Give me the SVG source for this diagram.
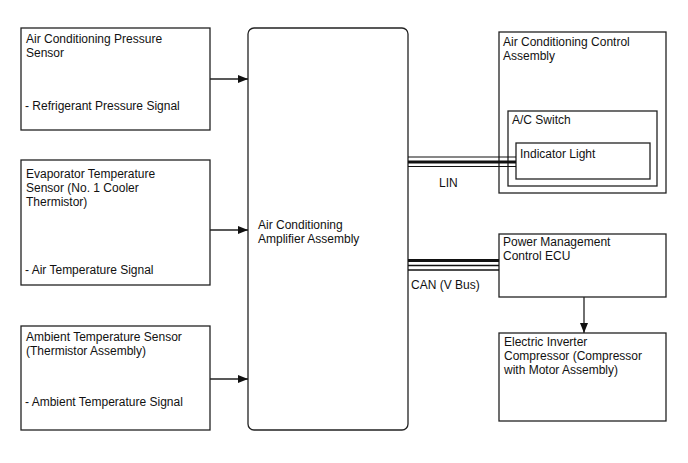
<svg xmlns="http://www.w3.org/2000/svg" width="688" height="463" viewBox="0 0 688 463">
<defs>
<style>
.box{fill:#fff;stroke:#222;stroke-width:1.3}
text{font-family:"Liberation Sans",Arial,sans-serif;font-size:12px;fill:#111}
.ln{stroke:#222;stroke-width:1.3;fill:none}
</style>
<marker id="ah" viewBox="0 0 10 10" refX="10" refY="5" markerWidth="10" markerHeight="10" markerUnits="userSpaceOnUse" orient="auto">
<path d="M0,1 L10,5 L0,9 z" fill="#111"/>
</marker>
</defs>
<rect width="688" height="463" fill="#fff"/>
<g id="pressure-sensor">
<rect class="box" x="21" y="28" width="189" height="102"/>
<text x="26" y="43">Air Conditioning Pressure</text>
<text x="26" y="57">Sensor</text>
<text x="25" y="110">- Refrigerant Pressure Signal</text>
</g>
<g id="evaporator-sensor">
<rect class="box" x="21" y="160" width="189" height="125"/>
<text x="26" y="178">Evaporator Temperature</text>
<text x="26" y="192">Sensor (No. 1 Cooler</text>
<text x="26" y="206">Thermistor)</text>
<text x="25" y="274">- Air Temperature Signal</text>
</g>
<g id="ambient-sensor">
<rect class="box" x="21" y="326" width="189" height="104"/>
<text x="26" y="341">Ambient Temperature Sensor</text>
<text x="26" y="355">(Thermistor Assembly)</text>
<text x="25" y="406">- Ambient Temperature Signal</text>
</g>
<g id="amplifier">
<rect class="box" x="248" y="28" width="160" height="402" rx="6"/>
<text x="258" y="229">Air Conditioning</text>
<text x="258" y="243">Amplifier Assembly</text>
</g>
<g id="ac-control">
<rect class="box" x="499" y="32" width="167" height="161"/>
<text x="503" y="46">Air Conditioning Control</text>
<text x="503" y="60">Assembly</text>
</g>
<g id="ac-switch">
<rect class="box" x="508" y="111" width="149" height="75"/>
<text x="512" y="124">A/C Switch</text>
</g>
<g id="indicator-light">
<rect class="box" x="516" y="143" width="134" height="36"/>
<text x="520" y="158">Indicator Light</text>
</g>
<g id="power-management">
<rect class="box" x="499" y="234" width="167" height="63"/>
<text x="503" y="246">Power Management</text>
<text x="503" y="260">Control ECU</text>
</g>
<g id="inverter-compressor">
<rect class="box" x="499" y="333" width="167" height="88"/>
<text x="504" y="346">Electric Inverter</text>
<text x="504" y="360">Compressor (Compressor</text>
<text x="504" y="374">with Motor Assembly)</text>
</g>
<g id="connectors">
<line class="ln" x1="210" y1="79" x2="248" y2="79" marker-end="url(#ah)"/>
<line class="ln" x1="210" y1="230" x2="248" y2="230" marker-end="url(#ah)"/>
<line class="ln" x1="210" y1="379" x2="248" y2="379" marker-end="url(#ah)"/>
<line class="ln" x1="584" y1="297" x2="584" y2="333" marker-end="url(#ah)"/>
<g stroke="#111">
<line x1="408" y1="157" x2="516" y2="157" stroke-width="1.2"/>
<line x1="408" y1="162" x2="516" y2="162" stroke-width="3"/>
<line x1="408" y1="166.5" x2="516" y2="166.5" stroke-width="1.2"/>
<line x1="408" y1="260.5" x2="499" y2="260.5" stroke-width="3"/>
<line x1="408" y1="265.5" x2="499" y2="265.5" stroke-width="1.5"/>
<line x1="408" y1="270" x2="499" y2="270" stroke-width="1.5"/>
</g>
<text x="439" y="187">LIN</text>
<text x="411" y="289">CAN (V Bus)</text>
</g>
</svg>
